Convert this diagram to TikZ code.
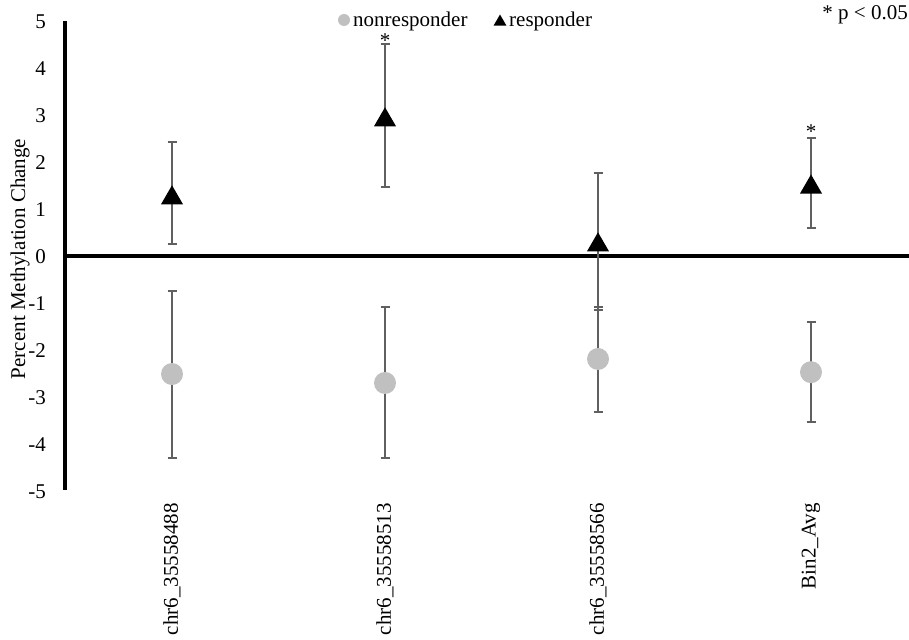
\documentclass[tikz,border=0pt]{standalone}
\usepackage{fontspec}
\setmainfont{Liberation Serif}
\usetikzlibrary{shapes.geometric}
\definecolor{barcol}{HTML}{606060}
\definecolor{ptgray}{HTML}{C0C0C0}
\begin{document}
\begin{tikzpicture}[x=1pt,y=-1pt,
  lbl/.style={font=\fontsize{21}{24}\selectfont, inner sep=0pt},
  ebar/.style={draw=barcol, line width=2pt},
  resp/.style={regular polygon, regular polygon sides=3, fill=black, minimum size=25.4pt, inner sep=0pt},
  nonresp/.style={circle, fill=ptgray, minimum size=22pt, inner sep=0pt},
  axisline/.style={line width=4pt}
]
\useasboundingbox (0,0) rectangle (909,639);
% axes
\coordinate (ytop) at (65,21);
\coordinate (ybot) at (65,490);
\coordinate (zl) at (63,256);
\coordinate (zr) at (909,256);
\draw[axisline] (ytop) -- (ybot);
\draw[axisline] (zl) -- (zr);
% tick labels
\foreach \v [count=\k] in {5,4,3,2,1,0,-1,-2,-3,-4,-5}
  \node[lbl, anchor=east] (tick\k) at (46,{257-47*\v}) {\v};
\node[lbl, rotate=90] (ytitle) at (20,259) {Percent Methylation Change};
% error bars
\foreach \i/\x/\lo/\hi in {r1/172/0.28/2.45, r2/385/1.49/4.53, r3/598/-1.13/1.79, r4/811/0.62/2.53,
                           n1/172/-4.28/-0.72, n2/385/-4.28/-1.06, n3/598/-3.30/-1.06, n4/811/-3.51/-1.38}{
  \coordinate (\i h) at (\x,{257-47*\hi});
  \coordinate (\i l) at (\x,{257-47*\lo});
  \draw[ebar] (\i h) -- (\i l);
  \draw[ebar] ([xshift=-4.5pt]\i h) -- ([xshift=4.5pt]\i h);
  \draw[ebar] ([xshift=-4.5pt]\i l) -- ([xshift=4.5pt]\i l);
}
% markers
\foreach \i/\x/\m in {n1/172/-2.49, n2/385/-2.68, n3/598/-2.17, n4/811/-2.45}
  \node[nonresp] (\i) at (\x,{257-47*\m}) {};
\foreach \i/\x/\m in {r1/172/1.32, r2/385/2.98, r3/598/0.32, r4/811/1.55}
  \node[resp] (\i) at (\x,{257-47*\m+3}) {};
% significance
\node[lbl, anchor=base] (s2) at (385,48) {*};
\node[lbl, anchor=base] (s4) at (811,139) {*};
\node[lbl, anchor=base east] (pnote) at (908,20) {* p < 0.05};
% legend
\node[circle, fill=ptgray, minimum size=12pt, inner sep=0pt] (legc) at (344,20) {};
\node[lbl, anchor=base west] (legn) at (353,27) {nonresponder};
\node[regular polygon, regular polygon sides=3, fill=black, minimum size=15pt, inner sep=0pt] (legt) at (500,22) {};
\node[lbl, anchor=base west] (legr) at (509,27) {responder};
% categories
\foreach \x/\t [count=\k] in {172/chr6\_35558488, 385/chr6\_35558513, 598/chr6\_35558566, 811/Bin2\_Avg}
  \node[lbl, rotate=90, anchor=east] (cat\k) at (\x,503) {\t};
\end{tikzpicture}
\end{document}
